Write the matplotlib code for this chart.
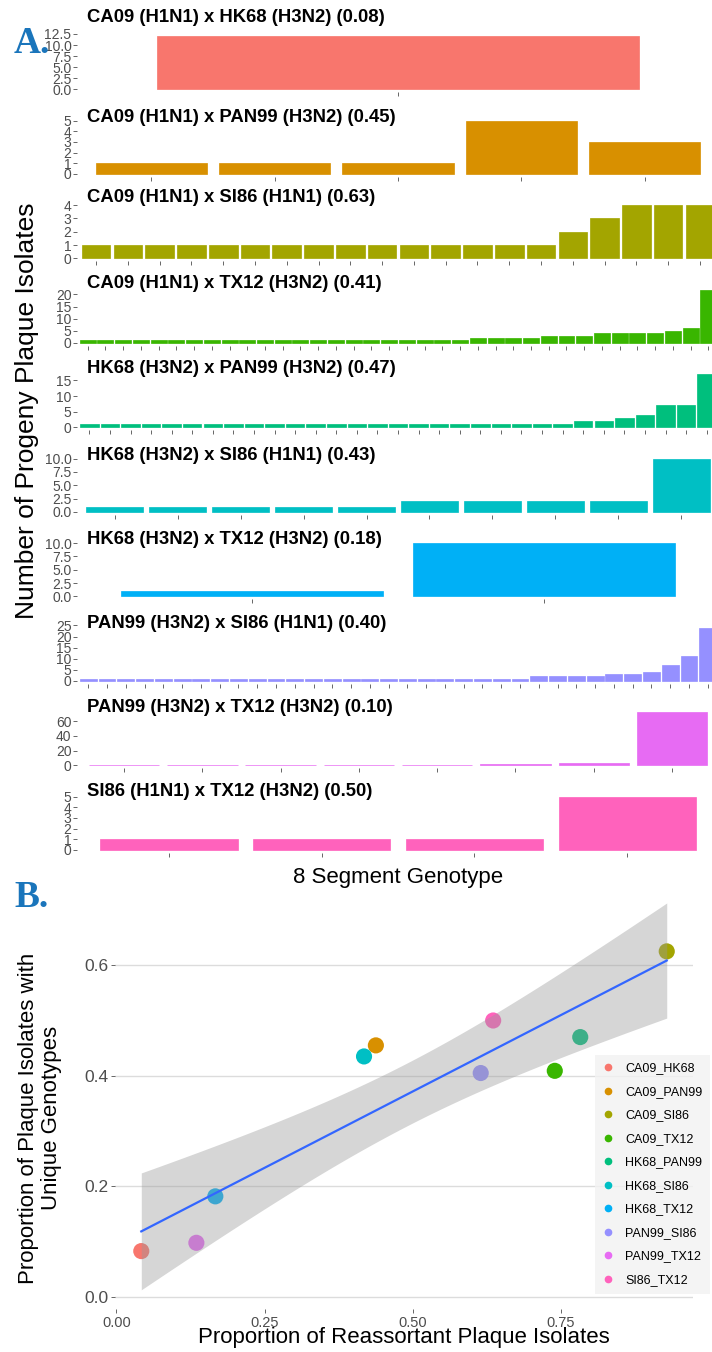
import numpy as np
import matplotlib
matplotlib.use("Agg")
import matplotlib.pyplot as plt
from matplotlib.lines import Line2D

plt.rcParams['font.family'] = ['Liberation Sans', 'DejaVu Sans']

W, H = 712, 1352

# ---- panel A: plaque isolates per unique 8 segment genotype ----
titles = [
    "CA09 (H1N1) x HK68 (H3N2) (0.08)",
    "CA09 (H1N1) x PAN99 (H3N2) (0.45)",
    "CA09 (H1N1) x SI86 (H1N1) (0.63)",
    "CA09 (H1N1) x TX12 (H3N2) (0.41)",
    "HK68 (H3N2) x PAN99 (H3N2) (0.47)",
    "HK68 (H3N2) x SI86 (H1N1) (0.43)",
    "HK68 (H3N2) x TX12 (H3N2) (0.18)",
    "PAN99 (H3N2) x SI86 (H1N1) (0.40)",
    "PAN99 (H3N2) x TX12 (H3N2) (0.10)",
    "SI86 (H1N1) x TX12 (H3N2) (0.50)",
]
ca09_hk68 = [12]
ca09_pan99 = [1, 1, 1, 5, 3]
ca09_si86 = [1, 1, 1, 1, 1, 1, 1, 1, 1, 1, 1, 1, 1, 1, 1, 2, 3, 4, 4, 4]
ca09_tx12 = [1, 1, 1, 1, 1, 1, 1, 1, 1, 1, 1, 1, 1, 1, 1, 1, 1, 1, 1, 1, 1, 1,
             2, 2, 2, 2, 3, 3, 3, 4, 4, 4, 4, 5, 6, 22]
hk68_pan99 = [1, 1, 1, 1, 1, 1, 1, 1, 1, 1, 1, 1, 1, 1, 1, 1, 1, 1, 1, 1, 1, 1, 1, 1,
              2, 2, 3, 4, 7, 7, 17]
hk68_si86 = [1, 1, 1, 1, 1, 2, 2, 2, 2, 10]
hk68_tx12 = [1, 10]
pan99_si86 = [1, 1, 1, 1, 1, 1, 1, 1, 1, 1, 1, 1, 1, 1, 1, 1, 1, 1, 1, 1, 1, 1, 1, 1,
              2, 2, 2, 2, 3, 3, 4, 7, 11, 24]
pan99_tx12 = [1, 1, 1, 1, 1, 2, 3, 72]
si86_tx12 = [1, 1, 1, 5]
counts = [ca09_hk68, ca09_pan99, ca09_si86, ca09_tx12, hk68_pan99,
          hk68_si86, hk68_tx12, pan99_si86, pan99_tx12, si86_tx12]
ysteps = [2.5, 1, 1, 5, 5, 2.5, 2.5, 5, 20, 1]

# ---- panel B ----
pairs = ["CA09_HK68", "CA09_PAN99", "CA09_SI86", "CA09_TX12", "HK68_PAN99",
         "HK68_SI86", "HK68_TX12", "PAN99_SI86", "PAN99_TX12", "SI86_TX12"]
prop_reassortant = np.array([0.042, 0.438, 0.929, 0.740, 0.783, 0.418, 0.167, 0.615, 0.135, 0.636])
prop_unique = np.array([0.083, 0.455, 0.625, 0.409, 0.470, 0.435, 0.182, 0.405, 0.098, 0.500])

colors = ["#F8766D", "#D89000", "#A3A500", "#39B600", "#00BF7D",
          "#00BFC4", "#00B0F6", "#9590FF", "#E76BF3", "#FF62BC"]
grey_txt = "#4d4d4d"


def px_box(left, top, width, height):
    return [left / W, 1 - (top + height) / H, width / W, height / H]


fig = plt.figure(figsize=(W / 100, H / 100), dpi=100)

title_y = [18, 117, 198, 284, 368, 455, 539, 624, 708, 792]
for i, vals in enumerate(counts):
    top = 33.5 + 84.5 * i
    ax = fig.add_axes(px_box(77, top, 642, 58.5))
    n = len(vals)
    xs = np.arange(n)
    ax.bar(xs, vals, width=0.9, color=colors[i], edgecolor=colors[i], linewidth=0.5)
    ax.set_xlim(-0.6, n - 0.4)
    m = max(vals)
    ax.set_ylim(-0.05 * m, 1.05 * m)
    step = ysteps[i]
    ticks = np.arange(0, 1.05 * m + 1e-9, step)
    ax.set_yticks(ticks)
    fmt = '%.1f' if step == 2.5 else '%d'
    ax.set_yticklabels([fmt % t for t in ticks])
    ax.set_xticks(xs)
    ax.set_xticklabels([])
    for s in ax.spines.values():
        s.set_visible(False)
    ax.tick_params(axis='both', length=3, width=0.6, color=grey_txt,
                   labelsize=10, labelcolor=grey_txt, pad=1)
    fig.text(87 / W, 1 - title_y[i] / H, titles[i], fontsize=13.3,
             fontweight='bold', va='center', ha='left')

fig.text(27 / W, 1 - 411 / H, "Number of Progeny Plaque Isolates", rotation=90,
         fontsize=19, ha='center', va='center')
fig.text(398 / W, 1 - 878 / H, "8 Segment Genotype", fontsize=16,
         ha='center', va='center')

# ---- panel B: regression with 95% band ----
x = prop_reassortant
y = prop_unique
n = len(x)
coef = np.polyfit(x, y, 1)
xx = np.linspace(x.min(), x.max(), 80)
yy = np.polyval(coef, xx)
resid = y - np.polyval(coef, x)
s_err = np.sqrt(np.sum(resid ** 2) / (n - 2))
se = s_err * np.sqrt(1 / n + (xx - x.mean()) ** 2 / np.sum((x - x.mean()) ** 2))
tval = 2.306
lo, hi = yy - tval * se, yy + tval * se

xpad = 0.05 * (x.max() - x.min())
xlim = (x.min() - xpad, x.max() + xpad)
ymin, ymax = min(lo.min(), y.min()), max(hi.max(), y.max())
ypad = 0.05 * (ymax - ymin)
ylim = (ymin - ypad, ymax + ypad)

x0_px, xs_px = 116.4, 592.4
y0_px, ys_px = 1297, 553
left = x0_px + xlim[0] * xs_px
right = x0_px + xlim[1] * xs_px
topb = y0_px - ylim[1] * ys_px
botb = y0_px - ylim[0] * ys_px
axb = fig.add_axes(px_box(left, topb, right - left, botb - topb))
axb.scatter(x, y, s=135, c=colors, linewidths=0, zorder=2)
axb.fill_between(xx, lo, hi, color='#999999', alpha=0.4, linewidth=0, zorder=3)
axb.plot(xx, yy, color='#3366FF', lw=1.6, zorder=4)
axb.set_xlim(xlim)
axb.set_ylim(ylim)
axb.set_xticks([0, 0.25, 0.5, 0.75])
axb.set_xticklabels(["0.00", "0.25", "0.50", "0.75"])
axb.set_yticks([0, 0.2, 0.4, 0.6])
axb.set_yticklabels(["0.0", "0.2", "0.4", "0.6"])
axb.yaxis.grid(True, color='#dcdcdc', lw=1.0)
axb.set_axisbelow(True)
for s in axb.spines.values():
    s.set_visible(False)
axb.tick_params(axis='both', length=3, width=0.6, color=grey_txt, labelcolor=grey_txt, pad=2)
axb.tick_params(axis='x', labelsize=10.5)
axb.tick_params(axis='y', labelsize=12.5)

handles = [Line2D([], [], marker='o', ls='', color=c, markersize=4.5) for c in colors]
leg = fig.legend(handles, pairs, loc='upper left', bbox_to_anchor=(595 / W, 1 - 1055 / H),
                 bbox_transform=fig.transFigure, frameon=True, fancybox=False,
                 fontsize=9, labelspacing=0.92, handlelength=0.8, handletextpad=1.0,
                 borderpad=0.6, borderaxespad=0)
leg.get_frame().set_facecolor('#f2f2f2')
leg.get_frame().set_edgecolor('none')

fig.text(404 / W, 1 - 1338 / H, "Proportion of Reassortant Plaque Isolates",
         fontsize=16, ha='center', va='center')
fig.text(40 / W, 1 - 1118 / H, "Proportion of Plaque Isolates with\nUnique Genotypes",
         rotation=90, fontsize=16, ha='center', va='center', multialignment='center',
         linespacing=1.1)

fig.text(14 / W, 1 - 53 / H, "A.", fontsize=27, family=['Liberation Serif', 'DejaVu Serif'],
         fontweight='bold', color='#1a75bb', va='baseline')
fig.text(14 / W, 1 - 907 / H, "B.", fontsize=27, family=['Liberation Serif', 'DejaVu Serif'],
         fontweight='bold', color='#1a75bb', va='baseline')

fig.savefig('out.png', dpi=100)
